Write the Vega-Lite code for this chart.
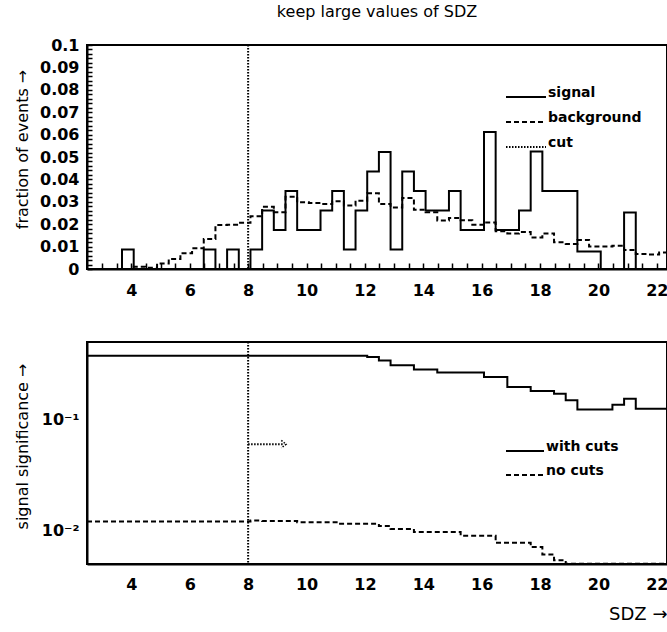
{
  "$schema": "https://vega.github.io/schema/vega-lite/v6.json",
  "padding": {"left": 12, "top": 3, "right": 0, "bottom": 0},
  "background": "white",
  "datasets": {
    "hist": [
      {"x": 2.48, "series": "signal", "v": 0}, {"x": 2.88, "series": "signal", "v": 0}, {"x": 3.28, "series": "signal", "v": 0},
      {"x": 3.68, "series": "signal", "v": 0.0087}, {"x": 4.08, "series": "signal", "v": 0}, {"x": 4.48, "series": "signal", "v": 0},
      {"x": 4.88, "series": "signal", "v": 0}, {"x": 5.28, "series": "signal", "v": 0}, {"x": 5.68, "series": "signal", "v": 0},
      {"x": 6.08, "series": "signal", "v": 0}, {"x": 6.48, "series": "signal", "v": 0.0087}, {"x": 6.88, "series": "signal", "v": 0},
      {"x": 7.28, "series": "signal", "v": 0.0087}, {"x": 7.68, "series": "signal", "v": 0}, {"x": 8.08, "series": "signal", "v": 0.0087},
      {"x": 8.48, "series": "signal", "v": 0.0261}, {"x": 8.88, "series": "signal", "v": 0.0174}, {"x": 9.28, "series": "signal", "v": 0.0348},
      {"x": 9.68, "series": "signal", "v": 0.0174}, {"x": 10.08, "series": "signal", "v": 0.0174}, {"x": 10.48, "series": "signal", "v": 0.0261},
      {"x": 10.88, "series": "signal", "v": 0.0348}, {"x": 11.28, "series": "signal", "v": 0.0087}, {"x": 11.68, "series": "signal", "v": 0.0261},
      {"x": 12.08, "series": "signal", "v": 0.0435}, {"x": 12.48, "series": "signal", "v": 0.0522}, {"x": 12.88, "series": "signal", "v": 0.0087},
      {"x": 13.28, "series": "signal", "v": 0.0435}, {"x": 13.68, "series": "signal", "v": 0.0348}, {"x": 14.08, "series": "signal", "v": 0.0261},
      {"x": 14.48, "series": "signal", "v": 0.0261}, {"x": 14.88, "series": "signal", "v": 0.0348}, {"x": 15.28, "series": "signal", "v": 0.0174},
      {"x": 15.68, "series": "signal", "v": 0.0174}, {"x": 16.08, "series": "signal", "v": 0.0612}, {"x": 16.48, "series": "signal", "v": 0.0174},
      {"x": 16.88, "series": "signal", "v": 0.0174}, {"x": 17.28, "series": "signal", "v": 0.0261}, {"x": 17.68, "series": "signal", "v": 0.0525},
      {"x": 18.08, "series": "signal", "v": 0.0348}, {"x": 18.48, "series": "signal", "v": 0.0348}, {"x": 18.88, "series": "signal", "v": 0.0348},
      {"x": 19.28, "series": "signal", "v": 0.0078}, {"x": 19.68, "series": "signal", "v": 0.0078}, {"x": 20.08, "series": "signal", "v": 0},
      {"x": 20.48, "series": "signal", "v": 0}, {"x": 20.88, "series": "signal", "v": 0.0252}, {"x": 21.28, "series": "signal", "v": 0},
      {"x": 21.68, "series": "signal", "v": 0}, {"x": 22.08, "series": "signal", "v": 0}, {"x": 22.48, "series": "signal", "v": 0},
      {"x": 2.48, "series": "background", "v": 0}, {"x": 2.88, "series": "background", "v": 0}, {"x": 3.28, "series": "background", "v": 0},
      {"x": 3.68, "series": "background", "v": 0}, {"x": 4.08, "series": "background", "v": 0.001}, {"x": 4.48, "series": "background", "v": 0.0006},
      {"x": 4.88, "series": "background", "v": 0.0025}, {"x": 5.28, "series": "background", "v": 0.0045}, {"x": 5.68, "series": "background", "v": 0.007},
      {"x": 6.08, "series": "background", "v": 0.0093}, {"x": 6.48, "series": "background", "v": 0.0134}, {"x": 6.88, "series": "background", "v": 0.0196},
      {"x": 7.28, "series": "background", "v": 0.0197}, {"x": 7.68, "series": "background", "v": 0.0206}, {"x": 8.08, "series": "background", "v": 0.0235},
      {"x": 8.48, "series": "background", "v": 0.0278}, {"x": 8.88, "series": "background", "v": 0.0253}, {"x": 9.28, "series": "background", "v": 0.0323},
      {"x": 9.68, "series": "background", "v": 0.0298}, {"x": 10.08, "series": "background", "v": 0.0295}, {"x": 10.48, "series": "background", "v": 0.029},
      {"x": 10.88, "series": "background", "v": 0.0302}, {"x": 11.28, "series": "background", "v": 0.0283}, {"x": 11.68, "series": "background", "v": 0.0305},
      {"x": 12.08, "series": "background", "v": 0.0338}, {"x": 12.48, "series": "background", "v": 0.029}, {"x": 12.88, "series": "background", "v": 0.0275},
      {"x": 13.28, "series": "background", "v": 0.0317}, {"x": 13.68, "series": "background", "v": 0.0264}, {"x": 14.08, "series": "background", "v": 0.0253},
      {"x": 14.48, "series": "background", "v": 0.0216}, {"x": 14.88, "series": "background", "v": 0.0228}, {"x": 15.28, "series": "background", "v": 0.0218},
      {"x": 15.68, "series": "background", "v": 0.0198}, {"x": 16.08, "series": "background", "v": 0.0208}, {"x": 16.48, "series": "background", "v": 0.0168},
      {"x": 16.88, "series": "background", "v": 0.0159}, {"x": 17.28, "series": "background", "v": 0.0165}, {"x": 17.68, "series": "background", "v": 0.0141},
      {"x": 18.08, "series": "background", "v": 0.0159}, {"x": 18.48, "series": "background", "v": 0.0119}, {"x": 18.88, "series": "background", "v": 0.0112},
      {"x": 19.28, "series": "background", "v": 0.013}, {"x": 19.68, "series": "background", "v": 0.0101}, {"x": 20.08, "series": "background", "v": 0.0101},
      {"x": 20.48, "series": "background", "v": 0.0104}, {"x": 20.88, "series": "background", "v": 0.0085}, {"x": 21.28, "series": "background", "v": 0.0067},
      {"x": 21.68, "series": "background", "v": 0.0065}, {"x": 22.08, "series": "background", "v": 0.0074}, {"x": 22.48, "series": "background", "v": 0.0074}
    ],
    "sig": [
      {"x": 2.48, "series": "with cuts", "v": 0.375}, {"x": 12.08, "series": "with cuts", "v": 0.366}, {"x": 12.48, "series": "with cuts", "v": 0.341},
      {"x": 12.88, "series": "with cuts", "v": 0.308}, {"x": 13.68, "series": "with cuts", "v": 0.283}, {"x": 14.48, "series": "with cuts", "v": 0.266},
      {"x": 16.08, "series": "with cuts", "v": 0.242}, {"x": 16.88, "series": "with cuts", "v": 0.197}, {"x": 17.68, "series": "with cuts", "v": 0.181},
      {"x": 18.48, "series": "with cuts", "v": 0.171}, {"x": 18.88, "series": "with cuts", "v": 0.149}, {"x": 19.28, "series": "with cuts", "v": 0.123},
      {"x": 20.48, "series": "with cuts", "v": 0.136}, {"x": 20.88, "series": "with cuts", "v": 0.154}, {"x": 21.28, "series": "with cuts", "v": 0.125},
      {"x": 22.48, "series": "with cuts", "v": 0.125},
      {"x": 2.48, "series": "no cuts", "v": 0.0121}, {"x": 8.08, "series": "no cuts", "v": 0.0123}, {"x": 8.48, "series": "no cuts", "v": 0.0122},
      {"x": 9.68, "series": "no cuts", "v": 0.0119}, {"x": 11.08, "series": "no cuts", "v": 0.01153}, {"x": 12.48, "series": "no cuts", "v": 0.011},
      {"x": 12.88, "series": "no cuts", "v": 0.01036}, {"x": 13.68, "series": "no cuts", "v": 0.0097}, {"x": 15.28, "series": "no cuts", "v": 0.009},
      {"x": 16.48, "series": "no cuts", "v": 0.00776}, {"x": 17.68, "series": "no cuts", "v": 0.0071}, {"x": 18.08, "series": "no cuts", "v": 0.0061},
      {"x": 18.48, "series": "no cuts", "v": 0.0054}, {"x": 18.88, "series": "no cuts", "v": 0.00502}, {"x": 22.48, "series": "no cuts", "v": 0.00502}
    ]
  },
  "vconcat": [
    {
      "width": 580,
      "height": 224,
      "title": {"text": "keep large values of SDZ", "anchor": "middle", "frame": "group", "fontSize": 16, "font": "DejaVu Sans", "fontWeight": "normal", "offset": 17, "color": "black"},
      "encoding": {
        "x": {"field": "x", "type": "quantitative", "scale": {"domain": [2.48, 22.35], "nice": false, "zero": false},
          "axis": {"title": null, "zindex": 1, "values": [3,3.5,4,4.5,5,5.5,6,6.5,7,7.5,8,8.5,9,9.5,10,10.5,11,11.5,12,12.5,13,13.5,14,14.5,15,15.5,16,16.5,17,17.5,18,18.5,19,19.5,20,20.5,21,21.5,22],
            "labelExpr": "floor(datum.value / 2) * 2 == datum.value ? format(datum.value, 'd') : ''", "labelOverlap": false,
            "tickSize": -6, "labelPadding": 19}}
      },
      "layer": [
        {
          "data": {"name": "hist"},
          "mark": {"type": "line", "interpolate": "step-after", "clip": true, "strokeWidth": 2, "color": "black"},
          "encoding": {
            "y": {"field": "v", "type": "quantitative", "scale": {"domain": [0, 0.1], "nice": false},
              "axis": {"title": "fraction of events \u2192", "zindex": 1, "format": ".2~f", "labelOverlap": false,
                "values": [0,0.002,0.004,0.006,0.008,0.01,0.012,0.014,0.016,0.018,0.02,0.022,0.024,0.026,0.028,0.03,0.032,0.034,0.036,0.038,0.04,0.042,0.044,0.046,0.048,0.05,0.052,0.054,0.056,0.058,0.06,0.062,0.064,0.066,0.068,0.07,0.072,0.074,0.076,0.078,0.08,0.082,0.084,0.086,0.088,0.09,0.092,0.094,0.096,0.098,0.1],
                "labelExpr": "abs(datum.value*100 - round(datum.value*100)) < 0.001 ? datum.label : ''",
                "tickSize": -5, "labelPadding": 13,
                "titleX": -60, "titleY": 104, "titleBaseline": "alphabetic"}},
            "strokeDash": {"field": "series", "type": "nominal",
              "scale": {"domain": ["signal", "background", "cut"], "range": [[1, 0], [5, 3], [1.5, 1.5]]},
              "legend": {"orient": "none", "legendX": 418, "legendY": 31, "title": null, "symbolType": "stroke", "symbolSize": 1600,
                "symbolStrokeWidth": 2, "symbolStrokeColor": "black", "labelFontSize": 14, "labelFont": "DejaVu Sans", "labelFontWeight": "bold",
                "labelColor": "black", "labelBaseline": "alphabetic", "labelOffset": 1, "rowPadding": 0, "padding": 0}}
          }
        },
        {
          "data": {"values": [{"x": 8, "series": "cut"}]},
          "mark": {"type": "rule", "color": "black", "strokeWidth": 2},
          "encoding": {
            "strokeDash": {"field": "series", "type": "nominal"}
          }
        }
      ]
    },
    {
      "width": 580,
      "height": 222,
      "encoding": {
        "x": {"field": "x", "type": "quantitative", "scale": {"domain": [2.48, 22.35], "nice": false, "zero": false},
          "axis": {"title": "SDZ \u2192", "zindex": 1, "titleAnchor": "end", "titleFontSize": 18, "titleY": 50, "titleBaseline": "middle",
            "values": [3,3.5,4,4.5,5,5.5,6,6.5,7,7.5,8,8.5,9,9.5,10,10.5,11,11.5,12,12.5,13,13.5,14,14.5,15,15.5,16,16.5,17,17.5,18,18.5,19,19.5,20,20.5,21,21.5,22],
            "labelExpr": "floor(datum.value / 2) * 2 == datum.value ? format(datum.value, 'd') : ''", "labelOverlap": false,
            "tickSize": 0, "labelPadding": 12,
            "encode": {"ticks": {"update": {"y2": {"signal": "floor(datum.value / 2) * 2 == datum.value ? -8 : -5"}}}}}}
      },
      "layer": [
        {
          "data": {"name": "sig"},
          "mark": {"type": "line", "interpolate": "step-after", "clip": true, "strokeWidth": 2, "color": "black"},
          "encoding": {
            "y": {"field": "v", "type": "quantitative", "scale": {"type": "log", "domain": [0.005, 0.5], "nice": false},
              "axis": {"title": "signal significance \u2192", "zindex": 1, "labelOverlap": false,
                "values": [0.005,0.006,0.007,0.008,0.009,0.01,0.02,0.03,0.04,0.05,0.06,0.07,0.08,0.09,0.1,0.2,0.3,0.4],
                "labelExpr": "datum.value == 0.1 ? '10\u207b\u00b9' : (datum.value == 0.01 ? '10\u207b\u00b2' : '')",
                "tickSize": 0, "labelPadding": 8,
                "encode": {"ticks": {"update": {"x2": {"signal": "(datum.value == 0.1 || datum.value == 0.01) ? 8 : 5"}}}},
                "titleX": -60, "titleY": 104, "titleBaseline": "alphabetic"}},
            "strokeDash": {"field": "series", "type": "nominal",
              "scale": {"domain": ["with cuts", "no cuts"], "range": [[1, 0], [5, 3]]},
              "legend": {"orient": "none", "legendX": 418, "legendY": 89, "title": null, "symbolType": "stroke", "symbolSize": 1444,
                "symbolStrokeWidth": 2, "symbolStrokeColor": "black", "labelFontSize": 14, "labelFont": "DejaVu Sans", "labelFontWeight": "bold",
                "labelColor": "black", "labelBaseline": "alphabetic", "labelOffset": 1, "rowPadding": 0, "padding": 0}}
          }
        },
        {
          "data": {"values": [{"x": 8}]},
          "mark": {"type": "rule", "color": "black", "strokeWidth": 2, "strokeDash": [1.5, 1.5]},
          "encoding": {}
        },
        {
          "data": {"values": [{"x": 8, "x2": 9.2, "y": 0.06}]},
          "mark": {"type": "rule", "color": "black", "strokeWidth": 2, "strokeDash": [1.5, 1.5]},
          "encoding": {
            "x2": {"field": "x2"},
            "y": {"field": "y", "type": "quantitative"}
          }
        },
        {
          "data": {"values": [{"x": 9.3, "y": 0.06}]},
          "mark": {"type": "point", "shape": "M-1,-0.8L0,0L-1,0.8", "filled": false, "color": "black", "strokeWidth": 1.5, "strokeDash": [1.5, 1.5], "size": 90, "opacity": 1},
          "encoding": {
            "y": {"field": "y", "type": "quantitative"}
          }
        }
      ]
    }
  ],
  "spacing": 41,
  "resolve": {
    "scale": {"x": "independent", "y": "independent", "strokeDash": "independent"},
    "axis": {"x": "independent", "y": "independent"},
    "legend": {"strokeDash": "independent"}
  },
  "config": {
    "font": "DejaVu Sans",
    "view": {"stroke": "black", "strokeWidth": 2},
    "axis": {"zindex": 1, "grid": false, "domainColor": "black", "domainWidth": 2, "tickColor": "black", "tickWidth": 1.5,
      "labelColor": "black", "labelFont": "DejaVu Sans", "labelFontWeight": "bold", "labelFontSize": 16,
      "titleFont": "DejaVu Sans", "titleFontWeight": "normal", "titleFontSize": 16, "titleColor": "black"}
  }
}
